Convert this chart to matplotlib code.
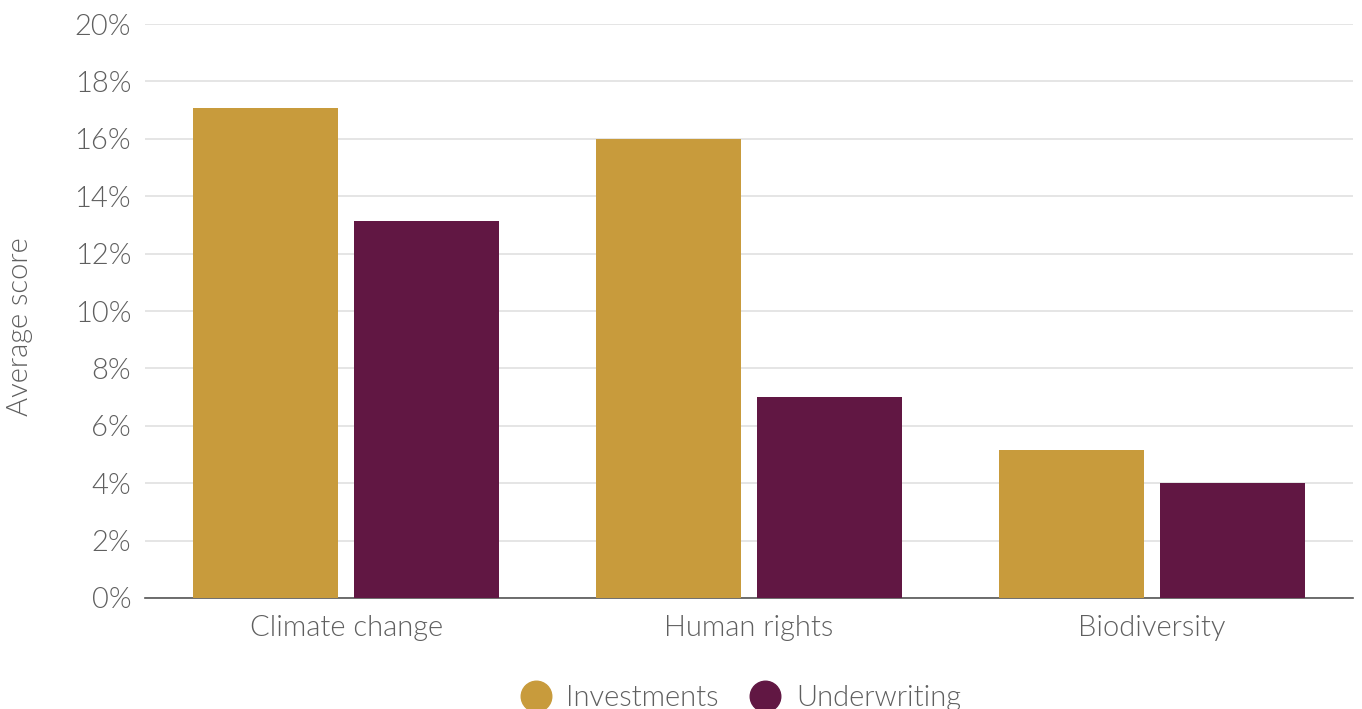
import numpy as np
import matplotlib.pyplot as plt
from matplotlib.lines import Line2D
from matplotlib.ticker import FuncFormatter

# data
categories = ['Climate change', 'Human rights', 'Biodiversity']
investments = [17.07, 16.0, 5.16]
underwriting = [13.14, 7.0, 4.0]

gold = '#C89B3C'
plum = '#611743'
grey = '#5f5f5f'

plt.rcParams['font.family'] = ['Lato', 'DejaVu Sans']
plt.rcParams['font.weight'] = 300
plt.rcParams['axes.labelweight'] = 300

fig = plt.figure(figsize=(13.62, 7.09), dpi=100)
ax = fig.add_axes([0.1065, 0.1566, 0.887, 0.8095])

x = np.arange(len(categories))
w = 0.36
ax.bar(x - 0.2, investments, w, color=gold, zorder=3)
ax.bar(x + 0.2, underwriting, w, color=plum, zorder=3)

ax.set_xlim(-0.5, 2.5)
ax.set_ylim(0, 20)
ax.set_yticks(np.arange(0, 21, 2))
ax.yaxis.set_major_formatter(FuncFormatter(lambda v, p: '%d%%' % v))
ax.set_xticks(x)
ax.set_xticklabels(categories)

ax.grid(axis='y', color='#e0e0e0', linewidth=1.2, zorder=0)
for s in ['top', 'right', 'left']:
    ax.spines[s].set_visible(False)
ax.spines['bottom'].set_color('#555555')
ax.spines['bottom'].set_linewidth(1.2)
ax.tick_params(axis='both', length=0, labelsize=21, colors=grey)
ax.tick_params(axis='x', pad=12)
ax.tick_params(axis='y', pad=10)

ax.set_ylabel('Average score', fontsize=21, color=grey)
ax.yaxis.set_label_coords(-0.093, 0.472)

handles = [Line2D([], [], marker='o', linestyle='', markersize=22, color=gold),
           Line2D([], [], marker='o', linestyle='', markersize=22, color=plum)]
leg = fig.legend(handles, ['Investments', 'Underwriting'], loc='center',
                 bbox_to_anchor=(0.543, 0.015), ncol=2, frameon=False,
                 fontsize=21, handletextpad=0.45, columnspacing=1.0,
                 handlelength=1.2)
for t in leg.get_texts():
    t.set_color(grey)

fig.savefig('out.png', dpi=100)
